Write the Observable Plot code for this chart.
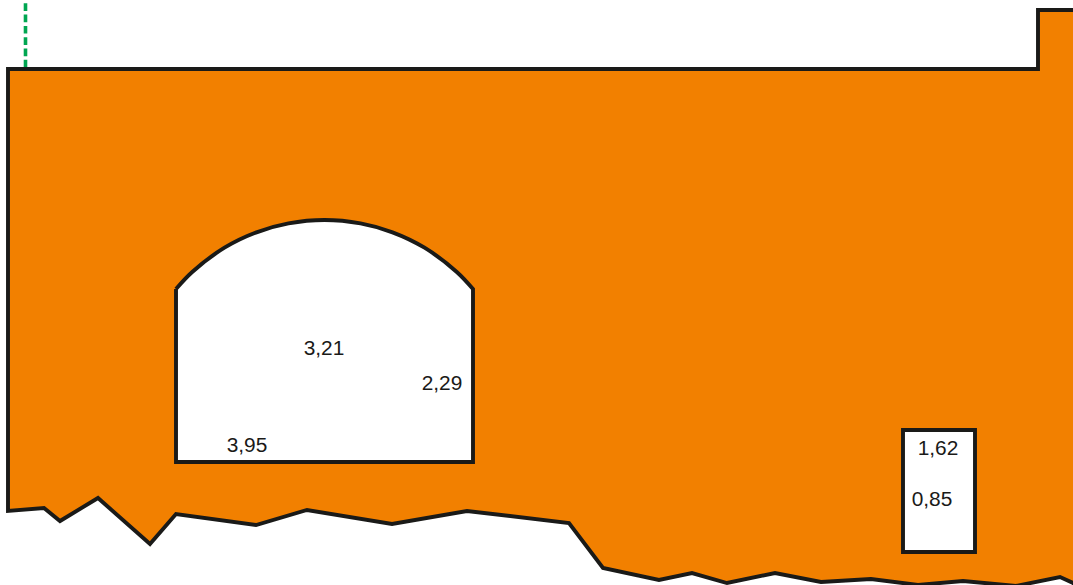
<!DOCTYPE html>
<html><head><meta charset="utf-8">
<style>html,body{margin:0;padding:0;background:#fff;overflow:hidden}svg{display:block}</style>
<script src="https://cdn.jsdelivr.net/npm/d3@7"></script>
<script src="https://cdn.jsdelivr.net/npm/@observablehq/plot@0.6"></script>
</head><body><div id="chart"></div>
<script>
const outlineX = [500,1038,1038,1085,1085,1073,1060,1016,963,918,871,821,775,727,692,659,603,569,467,392,307,256,176,150,98,60,44,8,8,500];
const outlineY = [69,69,10,10,600,583,577,586,581,585,579,582,573,583,573,580,568,523,511,524,510,525,514,544,498,521,508,511,69,69];
const tunnelX = [176,176,176,176,473,473,473,473,456.5,424.5,392.5,360.5,324.5,288.5,256.5,224.5,192.5,176];
const tunnelY = [289,289,462,462,462,462,289,289,271.7,247.7,232.3,223.4,220,223.4,232.3,247.7,271.7,289];
const shaftX = [940,975,975,903,903,940];
const shaftY = [430,430,552,552,430,430];
const labels = ["3,21","2,29","3,95","1,62","0,85"];
const labelX = [324,442,247,938,932];
const labelY = [348,383,445,448,499];
const rows = (xs, ys) => xs.map((x, i) => ({x, y: ys[i]}));
const ink = "#1a1a18";
const lineStyle = {x:"x", y:"y", stroke:ink, strokeWidth:3.9, strokeLinejoin:"miter", strokeMiterlimit:10, strokeLinecap:"butt"};
const chart = Plot.plot({
  width:1073, height:585,
  marginTop:0, marginRight:0, marginBottom:0, marginLeft:0,
  style:{background:"#fff"},
  x:{type:"linear", domain:[0,1073], range:[-0.5,1072.5], axis:null},
  y:{type:"linear", domain:[0,585], range:[-0.5,584.5], axis:null},
  marks:[
    Plot.ruleX([25.5], {y1:68, y2:3.8, stroke:"#00a651", strokeWidth:3.6, strokeDasharray:"7.7 3.6"}),
    Plot.line(rows(outlineX, outlineY), {...lineStyle, fill:"#f28000"}),
    Plot.line(rows(tunnelX, tunnelY), {...lineStyle, fill:"#fff", curve:"catmull-rom"}),
    Plot.line(rows(shaftX, shaftY), {...lineStyle, fill:"#fff"}),
    Plot.text(labels.map((t,i)=>({t, x:labelX[i], y:labelY[i]})), {x:"x", y:"y", text:"t", fill:ink, fontSize:20.9, fontFamily:"'Liberation Sans',Arial,sans-serif", textAnchor:"middle", lineAnchor:"middle"})
  ]
});
document.getElementById("chart").append(chart);
</script></body></html>
